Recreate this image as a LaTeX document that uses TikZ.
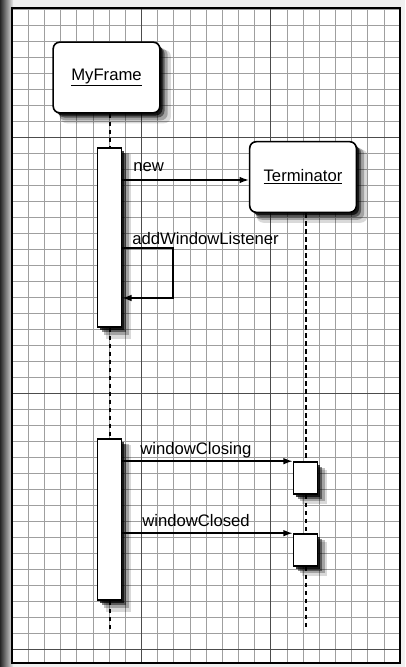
\documentclass[tikz,border=0pt]{standalone}
\usepackage{fontspec}
\setmainfont{Liberation Sans}
\usetikzlibrary{shadows,arrows.meta}
\begin{document}
\begin{tikzpicture}[x=0.75pt,y=-0.75pt,
  minor/.style={gray!75,line width=0.5pt},
  major/.style={black!70,line width=0.75pt},
  softshadow/.style={
    general shadow={fill=black,opacity=0.15,shadow xshift=6.5pt,shadow yshift=-6.5pt,shadow scale=1.04},
    general shadow={fill=black,opacity=0.25,shadow xshift=5pt,shadow yshift=-5pt,shadow scale=1.02},
    general shadow={fill=black,opacity=0.45,shadow xshift=3.5pt,shadow yshift=-3.5pt},
    general shadow={fill=black,opacity=0.75,shadow xshift=2pt,shadow yshift=-2pt}},
  obj/.style={draw=black,line width=1.2pt,fill=white,rounded corners=5pt,
    minimum width=80pt,minimum height=53pt,font=\fontsize{12.5}{15}\selectfont,softshadow},
  act/.style={draw=black,line width=1.2pt,fill=white,minimum width=18pt,inner sep=0pt,softshadow},
  msg/.style={line width=1.1pt,-{Latex[length=7pt,width=5pt]}},
  lbl/.style={font=\fontsize{12.5}{15}\selectfont,inner sep=0pt,anchor=west},
  life/.style={line width=1.5pt,dash pattern=on 3.5pt off 2.5pt}
]
\useasboundingbox (0,0) rectangle (405,667);
% background and scan edge
\fill[gray!12] (0,0) rectangle (405,667);
\shade[left color=black!85,right color=gray!20] (0,0) rectangle (13,667);
\fill[white] (12,8) rectangle (400,663);
% grid
\foreach \i in {0,...,24} \draw[minor] ({12+16.17*\i},8) -- ({12+16.17*\i},663);
\foreach \j in {0,...,40} \draw[minor] (12,{9+16*\j}) -- (400,{9+16*\j});
\foreach \xx in {141.4,270.7} \draw[major] (\xx,8) -- (\xx,663);
\foreach \yy in {137,393,649} \draw[major] (12,\yy) -- (400,\yy);
\draw[line width=1.6pt] (12,8) rectangle (400,663);

% objects
\node[obj] (myframe) at (106.5,77.5) {\underline{MyFrame}};
\node[obj] (term) at (303,177) {\underline{Terminator}};
% activations
\node[act,minimum height=134pt] (act1) at (109.5,237.5) {};
\node[act,minimum height=120.75pt] (act2) at (109.5,519.5) {};
\node[act,minimum height=24pt] (b1) at (305.5,478) {};
\node[act,minimum height=24pt] (b2) at (305.5,550) {};

% lifelines
\coordinate (endL) at (109.5,632);
\coordinate (endT) at (305.5,630);
\draw[life] (act1.north |- myframe.south) -- (act1.north);
\draw[life] (act1.south) -- (act2.north);
\draw[life] (act2.south) -- (endL);
\draw[life] (b1.north |- term.south) -- (b1.north);
\draw[life] (b1.south) -- (b2.north);
\draw[life] (b2.south) -- (endT);

% labels
\node[lbl] (lnew) at (133,167) {new};
\node[lbl] (lawl) at (132,239) {addWindowListener};
\node[lbl] (lwcg) at (140,450) {windowClosing};
\node[lbl] (lwcd) at (142,521) {windowClosed};

% messages
\coordinate (newy) at (0,180);
\draw[msg] (act1.east |- newy) -- (term.west |- newy);
\coordinate (sA) at (173,248);
\coordinate (sB) at (173,298);
\draw[msg,line width=1pt] (act1.east |- sA) -- (sA) -- (sB) -- (act1.east |- sB);
\draw[msg] (act2.east |- b1.north west) -- (b1.north west);
\draw[msg] (act2.east |- b2.north west) -- (b2.north west);
\end{tikzpicture}
\end{document}
